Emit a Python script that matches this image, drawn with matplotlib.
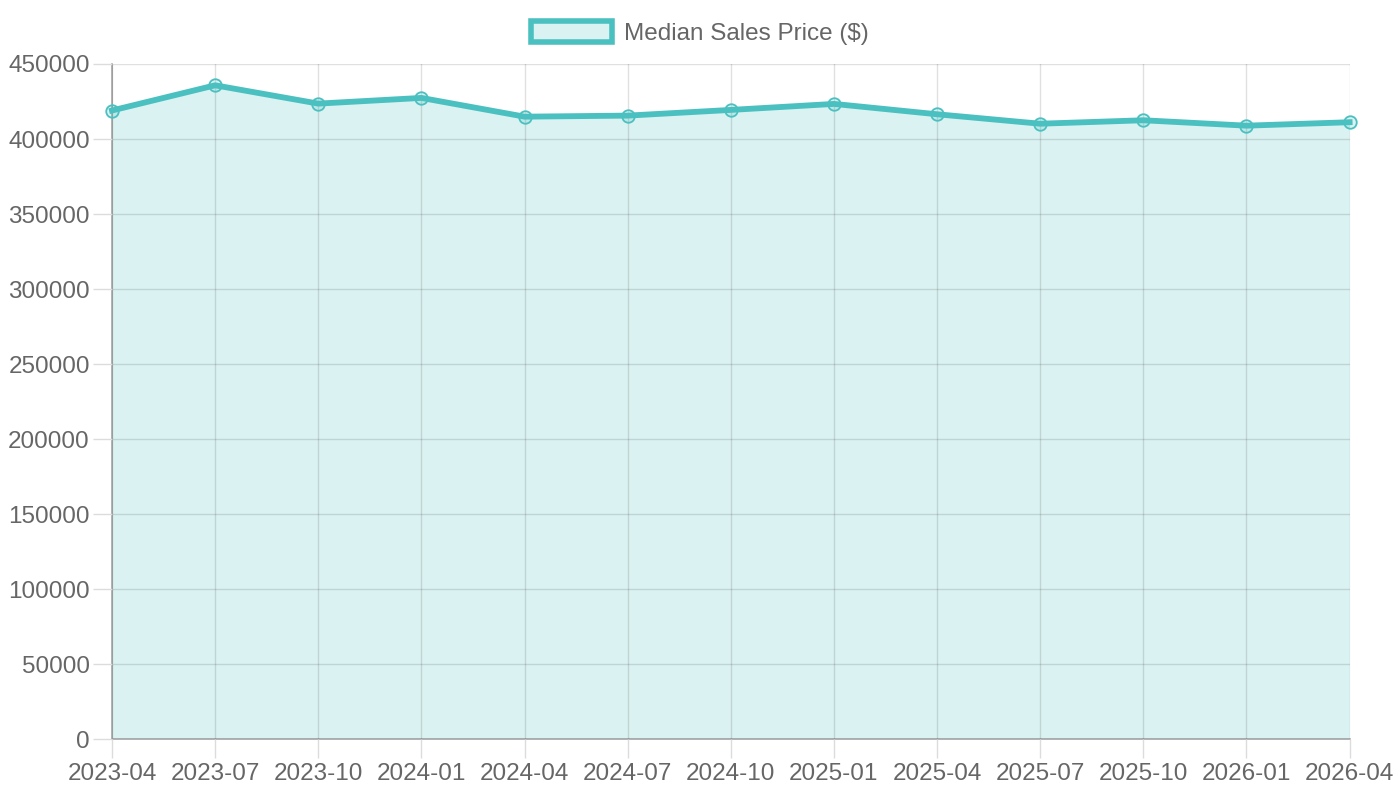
import matplotlib
matplotlib.use("Agg")
import matplotlib.pyplot as plt
from matplotlib.patches import Patch

plt.rcParams['font.family'] = ['Liberation Sans', 'DejaVu Sans']

# quarterly median sales price
months = ['2023-04', '2023-07', '2023-10', '2024-01', '2024-04', '2024-07', '2024-10',
          '2025-01', '2025-04', '2025-07', '2025-10', '2026-01', '2026-04']
prices = [419000, 435800, 423600, 427400, 414900, 415600, 419400,
          423400, 416500, 410200, 412500, 408900, 411200]
y_ticks = list(range(0, 450001, 50000))

line_col = '#4bc0c0'
fill_col = (75/255, 192/255, 192/255, 0.2)
text_col = '#666666'

fig = plt.figure(figsize=(14, 8), dpi=100)
ax = fig.add_axes([0.08, 0.076, 0.884, 0.844])

x = list(range(len(months)))
ax.fill_between(x, prices, 0, color=fill_col, linewidth=0)
ax.plot(x, prices, color=line_col, linewidth=4.2, marker='o', markersize=9,
        markerfacecolor=fill_col, markeredgecolor=line_col, markeredgewidth=1.3,
        zorder=3, clip_on=False)

ax.set_xlim(0, len(months) - 1)
ax.set_ylim(0, 450000)
ax.set_xticks(x)
ax.set_xticklabels(months)
ax.set_yticks(y_ticks)
ax.set_yticklabels([str(v) for v in y_ticks])

for side in ['top', 'right']:
    ax.spines[side].set_visible(False)
for side in ['left', 'bottom']:
    ax.spines[side].set_color('#a6a6a6')
    ax.spines[side].set_linewidth(1.2)

ax.tick_params(axis='both', colors='#dcdcdc', length=14, width=1, labelsize=17.5,
               labelcolor=text_col)
ax.tick_params(axis='x', pad=3)
ax.tick_params(axis='y', pad=2)
ax.grid(True, color='black', alpha=0.12, linewidth=1)
ax.set_axisbelow(False)

handle = Patch(facecolor=fill_col, edgecolor=line_col, linewidth=4)
fig.legend([handle], ['Median Sales Price ($)'], loc='center', bbox_to_anchor=(0.5, 0.959),
           frameon=False, fontsize=17.5, labelcolor=text_col, handlelength=3.3,
           handleheight=1.0, handletextpad=0.5)

fig.savefig('out.png', dpi=100)
